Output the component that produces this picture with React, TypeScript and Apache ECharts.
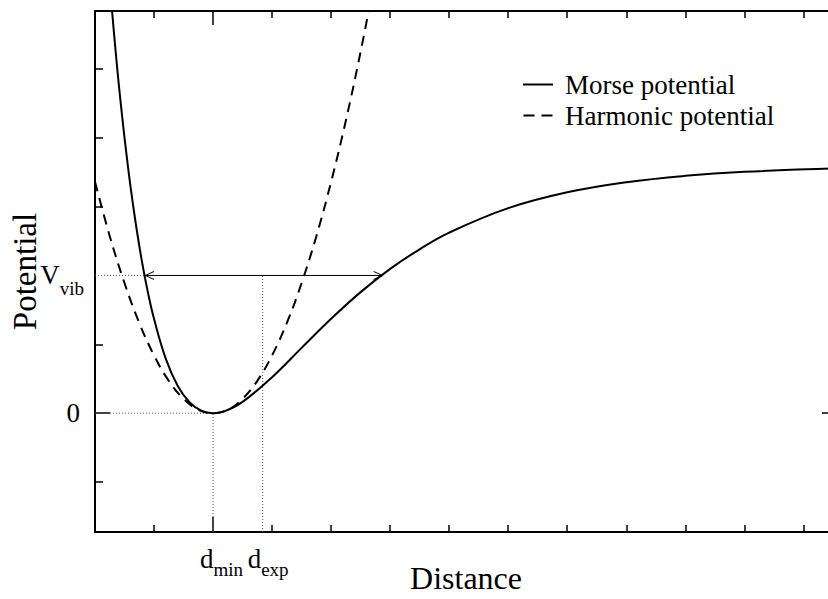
import React, { useEffect, useRef } from "react";
import * as echarts from "echarts";

// Axis ranges (in plot units: one minor tick = 1 unit)
const X_MIN = 0;
const X_MAX = 12.57;
const Y_MIN = -1.725;
const Y_MAX = 5.84;

// Tick positions
const xMinorTicks = [0, 1, 3, 4, 5, 6, 7, 8, 9, 10, 11, 12];
const xMajorTicks = [2];
const yMinorTicks = [-1, 1, 3, 4, 5];
const yMajorTicks = [0];

// Special tick labels
const D_MIN = 2;
const D_EXP = 2.84;
const V_VIB = 2;
const yLabelValues = [0, V_VIB];

// Morse potential
const morseX = [0.25, 0.29, 0.35, 0.4, 0.45, 0.5, 0.6, 0.7, 0.8, 0.9, 1.0, 1.2, 1.4, 1.6, 1.8, 2.0, 2.2, 2.5, 3.0, 3.5, 4.0, 4.5, 5.0, 5.5, 6.0, 7.0, 8.0, 9.0, 10.0, 11.0, 12.6];
const morseV = [6.24, 5.83, 5.25, 4.8, 4.39, 4.0, 3.3, 2.7, 2.18, 1.74, 1.37, 0.79, 0.4, 0.161, 0.037, 0, 0.03, 0.164, 0.523, 0.948, 1.371, 1.758, 2.096, 2.38, 2.622, 2.977, 3.207, 3.354, 3.447, 3.505, 3.556];

// Harmonic potential
const harmX = [0, 0.25, 0.5, 0.75, 1.0, 1.25, 1.5, 1.75, 2.0, 2.25, 2.5, 2.75, 3.0, 3.25, 3.5, 3.75, 4.0, 4.25, 4.5, 4.75];
const harmV = [3.36, 2.57, 1.89, 1.31, 0.84, 0.47, 0.21, 0.05, 0, 0.05, 0.21, 0.47, 0.84, 1.31, 1.89, 2.57, 3.36, 4.25, 5.25, 6.35];

// Vibrational level arrow (between Morse crossings)
const arrowLeft = 0.85;
const arrowRight = 4.87;
const headDx = 0.15;
const headDy = 0.058;

const FONT = "Liberation Serif";

export default function App() {
  const ref = useRef<HTMLDivElement>(null);
  useEffect(() => {
    if (!ref.current) return;
    document.body.style.overflow = "hidden";
    const chart = echarts.init(ref.current, undefined, { renderer: "svg" });

    const axisLineStyle = { color: "#000", width: 2 };
    const tickStyle = { color: "#000", width: 1.5 };
    const baseX = { type: "value", min: X_MIN, max: X_MAX, splitLine: { show: false } };
    const baseY = { type: "value", min: Y_MIN, max: Y_MAX, splitLine: { show: false } };
    const dotted = { color: "#555", width: 1, type: [1, 2] };
    const subRich = (pad: number, padTop: number) => ({
      pad: { width: pad },
      main: { fontFamily: FONT, fontSize: 27, lineHeight: 27, color: "#000", verticalAlign: "top" },
      sub: { fontFamily: FONT, fontSize: 19, lineHeight: 19, color: "#000", verticalAlign: "top", padding: [padTop, 0, 0, 0] },
    });

    const seg = (pts: number[][], style: any) => ({
      type: "line",
      data: pts,
      symbol: "none",
      lineStyle: style,
      silent: true,
      z: 1,
    });

    chart.setOption({
      animation: false,
      backgroundColor: "#fff",
      grid: { left: 92, top: 11, right: 8, bottom: 66 },
      legend: {
        data: [
          { name: "Morse potential", icon: "path://M0,0H30V2H0Z" },
          { name: "Harmonic potential", icon: "path://M0,0H11V2H0Z M18,0H29V2H18Z" },
        ],
        orient: "vertical",
        left: 518,
        top: 64,
        itemWidth: 30,
        itemHeight: 2,
        itemGap: 0,
        textStyle: { fontFamily: FONT, fontSize: 27, color: "#000", lineHeight: 31, padding: [0, 0, 0, 7] },
      },
      xAxis: [
        {
          ...baseX,
          position: "bottom",
          axisLine: { onZero: false, lineStyle: axisLineStyle },
          axisTick: { inside: true, length: 7, lineStyle: tickStyle, customValues: xMinorTicks },
          axisLabel: { show: false },
          name: "Distance",
          nameLocation: "middle",
          nameGap: 30,
          nameTextStyle: { fontFamily: FONT, fontSize: 32, color: "#000" },
        },
        {
          ...baseX,
          position: "bottom",
          axisLine: { show: false, onZero: false },
          axisTick: { inside: true, length: 15, lineStyle: tickStyle, customValues: xMajorTicks },
          axisLabel: {
            customValues: [D_MIN],
            margin: 13,
            formatter: () => "{pad|}{main|d}{sub|min}",
            rich: subRich(17, 15),
          },
        },
        {
          ...baseX,
          position: "bottom",
          axisLine: { show: false, onZero: false },
          axisTick: { show: false },
          axisLabel: {
            customValues: [D_EXP],
            margin: 13,
            formatter: () => "{pad|}{main|d}{sub|exp}",
            rich: subRich(11, 15),
          },
        },
        {
          ...baseX,
          position: "top",
          axisLine: { onZero: false, lineStyle: axisLineStyle },
          axisTick: { inside: true, length: 7, lineStyle: tickStyle, customValues: xMinorTicks },
          axisLabel: { show: false },
        },
        {
          ...baseX,
          position: "top",
          axisLine: { show: false, onZero: false },
          axisTick: { inside: true, length: 14, lineStyle: tickStyle, customValues: xMajorTicks },
          axisLabel: { show: false },
        },
      ],
      yAxis: [
        {
          ...baseY,
          position: "left",
          axisLine: { onZero: false, lineStyle: axisLineStyle },
          axisTick: { inside: true, length: 8, lineStyle: tickStyle, customValues: yMinorTicks },
          axisLabel: { show: false },
          name: "Potential",
          nameLocation: "middle",
          nameGap: 54,
          nameTextStyle: { fontFamily: FONT, fontSize: 33, color: "#000" },
        },
        {
          ...baseY,
          position: "left",
          axisLine: { show: false, onZero: false },
          axisTick: { inside: true, length: 15, lineStyle: tickStyle, customValues: yMajorTicks },
          axisLabel: {
            customValues: yLabelValues,
            margin: 11,
            formatter: (v: number) => (v === 0 ? "{zero|0}" : "{main|V}{sub|vib}"),
            rich: {
              zero: { fontFamily: FONT, fontSize: 27, color: "#000", padding: [0, 4, 0, 0] },
              ...subRich(0, 17),
            },
          },
        },
        {
          ...baseY,
          position: "right",
          axisLine: { onZero: false, lineStyle: axisLineStyle },
          axisTick: { inside: true, length: 8, lineStyle: tickStyle, customValues: yMinorTicks },
          axisLabel: { show: false },
        },
        {
          ...baseY,
          position: "right",
          axisLine: { show: false, onZero: false },
          axisTick: { inside: true, length: 15, lineStyle: tickStyle, customValues: yMajorTicks },
          axisLabel: { show: false },
        },
      ],
      series: [
        {
          name: "Morse potential",
          type: "line",
          data: morseX.map((x, i) => [x, morseV[i]]),
          smooth: 0.4,
          symbol: "none",
          lineStyle: { color: "#000", width: 2 },
          itemStyle: { color: "#000" },
          z: 3,
        },
        {
          name: "Harmonic potential",
          type: "line",
          data: harmX.map((x, i) => [x, harmV[i]]),
          smooth: 0.4,
          symbol: "none",
          lineStyle: { color: "#000", width: 2, type: [10, 7] },
          itemStyle: { color: "#000" },
          z: 3,
        },
        seg([[X_MIN, V_VIB], [arrowLeft, V_VIB]], dotted),
        seg([[X_MIN, 0], [D_MIN, 0]], dotted),
        seg([[D_MIN, Y_MIN], [D_MIN, 0]], dotted),
        seg([[D_EXP, Y_MIN], [D_EXP, V_VIB]], dotted),
        seg([[arrowLeft, V_VIB], [arrowRight, V_VIB]], { color: "#000", width: 1 }),
        seg([[arrowLeft + headDx, V_VIB + headDy], [arrowLeft, V_VIB], [arrowLeft + headDx, V_VIB - headDy]], { color: "#000", width: 1 }),
        seg([[arrowRight - headDx, V_VIB + headDy], [arrowRight, V_VIB], [arrowRight - headDx, V_VIB - headDy]], { color: "#000", width: 1 }),
      ],
    });
    return () => chart.dispose();
  }, []);
  return (
    <div
      ref={ref}
      style={{ position: "fixed", left: 0, top: 0, width: 845, height: 599, background: "#fff" }}
    />
  );
}
